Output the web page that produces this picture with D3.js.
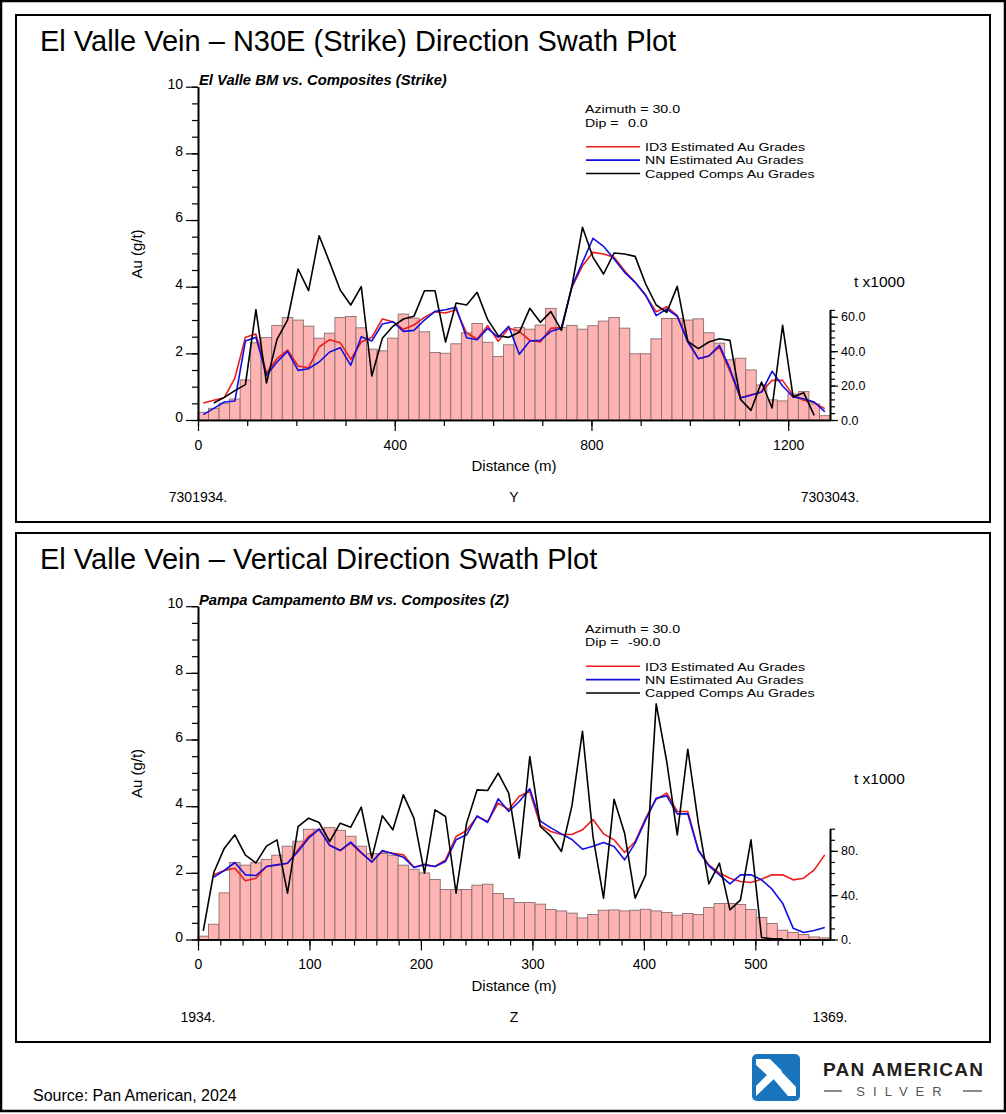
<!DOCTYPE html>
<html><head><meta charset="utf-8">
<script src="https://cdn.jsdelivr.net/npm/d3@7"></script>
<style>body{margin:0;background:#fff} svg text{font-family:"Liberation Sans",Arial,Helvetica,sans-serif}</style>
</head><body><svg id="c" width="1006" height="1114"></svg>
<script>
// ---------- DATA: Strike (N30E) swath ----------
const strikeTonnes = [4.5,6.8,9.7,12.2,23.3,44.9,48.0,55.0,59.6,58.1,54.6,47.6,50.5,59.6,60.2,53.6,41.2,40.2,47.6,61.6,
  59.2,51.3,39.2,38.8,44.3,50.7,56.1,45.2,36.9,43.7,53.8,52.8,55.2,64.9,53.8,55.0,52.8,54.8,57.5,59.6,
  53.4,38.5,38.5,47.2,59.0,59.0,58.1,58.8,50.7,44.7,35.0,35.9,29.1,20.4,11.7,11.1,15.1,16.5,9.3,2.5];
const strikeID3 = [0.51,0.59,0.67,1.26,2.48,2.58,1.41,1.84,2.10,1.62,1.57,2.19,2.41,2.32,1.82,2.34,2.48,3.03,2.95,2.72,
  2.85,3.08,3.25,3.21,3.31,2.61,2.43,2.83,2.36,2.75,2.66,2.39,2.34,2.75,2.78,3.98,4.63,5.03,4.98,4.88,
  4.48,4.13,3.73,3.25,3.40,3.13,2.39,1.84,1.92,2.19,1.46,0.67,0.76,0.84,1.19,1.19,0.74,0.59,0.52,0.34];
const strikeNN = [0.16,0.35,0.54,0.57,2.37,2.48,1.34,1.74,2.06,1.49,1.54,1.74,2.04,2.17,1.64,2.50,2.37,2.88,2.95,2.66,
  2.69,3.00,3.26,3.31,3.38,2.47,2.41,2.75,2.48,2.81,1.97,2.37,2.39,2.66,2.75,4.01,4.73,5.45,5.21,4.83,
  4.43,4.13,3.75,3.13,3.33,3.11,2.34,1.84,1.92,2.24,1.54,0.66,0.74,0.84,1.46,1.02,0.69,0.64,0.54,0.25];
const strikeComps = [null,0.51,0.68,0.88,1.06,3.31,1.11,2.42,3.00,4.53,3.88,5.53,4.73,3.90,3.45,4.00,1.32,2.45,2.81,3.03,
  3.11,3.88,3.88,2.34,3.51,3.45,3.83,3.01,2.53,2.48,2.63,3.35,2.93,3.25,2.69,4.02,5.78,4.88,4.38,5.01,
  4.98,4.91,4.08,3.45,3.23,4.01,2.36,2.14,2.34,2.44,2.39,0.62,0.29,1.14,0.36,2.84,0.69,0.82,0.14,null];
const strikeXTicks = [0,400,800,1200];
const strikeTTicks = ["0.0","20.0","40.0","60.0"];

// ---------- DATA: Vertical (Z) swath ----------
const vertTonnes = [3.0,13.8,42.1,69.5,67.1,69.2,72.2,76.1,84.2,88.7,99.5,99.5,101.0,98.6,93.2,84.2,77.6,77.6,76.1,67.1,
  63.4,60.1,54.2,45.1,45.1,45.1,49.0,49.9,41.5,37.0,33.4,33.4,31.9,27.1,25.8,23.8,19.5,22.6,26.4,26.7,
  25.8,26.4,27.3,25.8,24.4,21.9,23.5,22.6,28.9,32.5,32.5,31.6,27.1,19.9,14.4,8.4,6.3,4.5,2.3,1.5];
const vertID3 = [null,1.94,2.07,2.14,1.76,1.84,2.19,2.24,2.29,2.69,3.09,3.31,2.84,2.67,2.89,2.59,2.34,2.64,2.59,2.54,
  2.17,2.26,2.19,2.39,3.09,3.27,3.69,3.54,4.09,3.90,4.30,4.44,3.43,3.24,3.15,3.15,3.29,3.60,3.17,2.99,
  2.61,2.94,3.64,4.21,4.39,3.84,3.84,2.69,2.24,1.99,1.84,1.74,1.71,1.81,1.94,1.94,1.79,1.84,2.09,2.54];
const vertNN = [null,1.87,2.07,2.31,1.94,1.92,2.19,2.24,2.29,2.64,3.04,3.31,2.82,2.67,2.92,2.61,2.32,2.67,2.57,2.47,
  2.16,2.24,2.19,2.34,2.99,3.14,3.71,3.51,4.22,3.84,4.14,4.52,3.55,3.35,3.17,3.00,2.71,2.80,2.91,2.79,
  2.39,2.89,3.59,4.24,4.31,3.77,3.77,2.67,2.21,1.94,1.67,1.94,1.94,1.79,1.51,1.09,0.34,0.21,0.27,0.36];
const vertComps = [0.26,2.01,2.74,3.14,2.53,2.30,2.80,2.99,1.39,3.39,3.64,3.51,2.94,3.49,3.37,3.97,2.44,3.71,3.29,4.34,
  3.64,1.99,3.89,3.69,1.39,3.49,4.49,4.47,4.99,4.39,2.44,5.49,3.39,3.10,2.64,4.01,6.25,3.09,1.24,4.21,
  3.19,1.24,1.94,7.07,5.34,3.14,5.71,3.49,1.67,2.29,0.89,1.19,2.99,0.06,0.02,0.02,null,null,null,null];
const vertXTicks = [0,100,200,300,400,500];
const vertTTicks = ["0.","40.","80."];

const gradeTicks = [0,2,4,6,8,10];
const legendLabels = ["ID3 Estimated Au Grades","NN Estimated Au Grades","Capped Comps Au Grades"];
const legendColors = ["#ee1c1c","#1010e0","#000000"];

// ---------- DRAW ----------
const svg = d3.select('#c');
svg.append('rect').attr('x',1).attr('y',1).attr('width',1004).attr('height',1110)
  .attr('fill','#fff').attr('stroke','#000').attr('stroke-width',2.5);

// small text that keeps the width of a 14px label but a compact height
function compactText(g, x, y, str){
  const t = g.append('text').attr('x',x).attr('y',y).attr('font-size',14.2).text(str);
  const len = t.node().getComputedTextLength();
  t.attr('font-size',11.8).attr('textLength',len).attr('lengthAdjust','spacingAndGlyphs');
  return t;
}

function drawChart(o){
  const g = svg.append('g');
  g.append('rect').attr('x',16).attr('y',o.panelY).attr('width',974).attr('height',o.panelH)
    .attr('fill','none').attr('stroke','#000').attr('stroke-width',2);
  g.append('text').attr('x',40).attr('y',o.panelY+36).attr('font-size',29).text(o.title);

  const x = d3.scaleLinear().domain([0,o.xMax]).range([198,830]);
  const y = d3.scaleLinear().domain([0,10]).range([o.y0, o.y0-333.3]);
  const yt = d3.scaleLinear().domain([0,o.tMax]).range([o.y0, o.y0-o.tMax*o.tPx]);
  const n = o.tonnes.length, bw = o.xMax/n;

  // bars
  g.append('g').selectAll('rect').data(o.tonnes).join('rect')
    .attr('x',(d,i)=>x(i*bw)).attr('width',(d,i)=>x((i+1)*bw)-x(i*bw))
    .attr('y',d=>yt(d)).attr('height',d=>o.y0-yt(d))
    .attr('fill','#ffb4b4').attr('stroke','#8a6e6e').attr('stroke-width',0.9);

  // lines
  const line = d3.line().defined(d=>d!=null).x((d,i)=>x((i+0.5)*bw)).y(d=>y(d));
  [[o.id3,legendColors[0]],[o.nn,legendColors[1]],[o.comps,legendColors[2]]].forEach(([s,c])=>{
    g.append('path').datum(s).attr('d',line).attr('fill','none').attr('stroke',c)
      .attr('stroke-width',1.6).attr('stroke-linejoin','round');
  });

  // left axis
  const minorY = d3.range(0,10.01,0.5);
  const la = g.append('g').attr('transform','translate(198,0)');
  la.call(d3.axisLeft(y).tickValues(minorY).tickSize(6).tickFormat('').tickSizeOuter(0));
  la.append('g').call(d3.axisLeft(y).tickValues(gradeTicks).tickSize(12).tickPadding(3).tickFormat(d=>d).tickSizeOuter(0))
    .call(a=>a.selectAll('text').attr('font-size',14).attr('dy','0.12em').attr('fill','#000'));
  // bottom axis
  const ba = g.append('g').attr('transform',`translate(0,${o.y0})`);
  ba.call(d3.axisBottom(x).tickValues(d3.range(0,o.xMax,o.xMinor)).tickSize(6).tickFormat('').tickSizeOuter(0));
  ba.append('g').call(d3.axisBottom(x).tickValues(o.xTicks).tickSize(11).tickPadding(9).tickFormat(d3.format('d')).tickSizeOuter(0))
    .call(a=>a.selectAll('text').attr('font-size',14).attr('fill','#000'));
  // right axis
  const ra = g.append('g').attr('transform','translate(830,0)');
  ra.call(d3.axisRight(yt).tickValues(d3.range(0,o.tMax+0.01,o.tMinor)).tickSize(5).tickFormat('').tickSizeOuter(0));
  ra.append('g').call(d3.axisRight(yt).tickValues(o.tTicks.map(Number)).tickSize(8).tickPadding(3)
      .tickFormat((d,i)=>o.tTicks[i]).tickSizeOuter(0))
    .call(a=>a.selectAll('text').attr('font-size',12.5).attr('fill','#000'));
  g.selectAll('.domain').attr('stroke','#000').attr('stroke-width',1.6);
  g.selectAll('.tick line').attr('stroke','#000').attr('stroke-width',1.2);

  // labels
  g.append('text').attr('x',199).attr('y',o.y0-335).attr('font-size',14.8)
    .attr('font-weight','bold').attr('font-style','italic').text(o.subtitle);
  g.append('text').attr('transform',`translate(142,${o.y0-166}) rotate(-90)`).attr('text-anchor','middle')
    .attr('font-size',15).text('Au (g/t)');
  g.append('text').attr('x',514).attr('y',o.y0+51).attr('text-anchor','middle').attr('font-size',15).text('Distance (m)');
  g.append('text').attr('x',198).attr('y',o.y0+82).attr('text-anchor','middle').attr('font-size',14).text(o.coordStart);
  g.append('text').attr('x',514).attr('y',o.y0+82).attr('text-anchor','middle').attr('font-size',14).text(o.coordName);
  g.append('text').attr('x',830).attr('y',o.y0+82).attr('text-anchor','middle').attr('font-size',14).text(o.coordEnd);
  g.append('text').attr('x',854).attr('y',o.tLabelY).attr('font-size',15.5).text('t x1000');

  // legend
  const top10 = o.y0-333.3;
  compactText(g, 585, top10+26.5, 'Azimuth = 30.0');
  compactText(g, 585, top10+40, 'Dip =');
  compactText(g, o.dipX, top10+40, o.dip);
  legendLabels.forEach((t,i)=>{
    const ly = top10+60+i*13.4;
    g.append('line').attr('x1',586).attr('x2',640).attr('y1',ly).attr('y2',ly)
      .attr('stroke',legendColors[i]).attr('stroke-width',1.6);
    compactText(g, 645, ly+4.3, t);
  });
}

drawChart({panelY:15,panelH:507,title:'El Valle Vein \u2013 N30E (Strike) Direction Swath Plot',
  subtitle:'El Valle BM vs. Composites (Strike)', y0:420, xMax:1285, xMinor:100, xTicks:strikeXTicks,
  tMax:64, tPx:1.72, tMinor:4, tTicks:strikeTTicks, tonnes:strikeTonnes, id3:strikeID3, nn:strikeNN, comps:strikeComps,
  coordStart:'7301934.', coordName:'Y', coordEnd:'7303043.', tLabelY:287, dip:'0.0', dipX:628});

drawChart({panelY:533,panelH:509,title:'El Valle Vein \u2013 Vertical Direction Swath Plot',
  subtitle:'Pampa Campamento BM vs. Composites (Z)', y0:939.5, xMax:567, xMinor:20, xTicks:vertXTicks,
  tMax:100, tPx:1.108, tMinor:10, tTicks:vertTTicks, tonnes:vertTonnes, id3:vertID3, nn:vertNN, comps:vertComps,
  coordStart:'1934.', coordName:'Z', coordEnd:'1369.', tLabelY:784, dip:'-90.0', dipX:628});

// footer
svg.append('text').attr('x',33).attr('y',1101).attr('font-size',16).text('Source: Pan American, 2024');
const logo = svg.append('g').attr('transform','translate(752,1054)');
logo.append('rect').attr('width',48).attr('height',47).attr('rx',5).attr('fill','#1b75bc');
logo.append('path').attr('d','M4,5 L18,5 L30,17 L23,24 L4,42 L4,32 L15,21 L4,11 Z').attr('fill','#fff');
logo.append('path').attr('d','M25,13 L44,33 L44,42 L36,42 L19,22 Z').attr('fill','#fff');
svg.append('text').attr('x',823).attr('y',1076).attr('font-size',19).attr('font-weight','600')
  .attr('fill','#231f20').attr('textLength',160).text('PAN AMERICAN');
svg.append('text').attr('x',903).attr('y',1096).attr('text-anchor','middle').attr('font-size',13)
  .attr('letter-spacing',8).attr('fill','#555').text('SILVER');
svg.append('line').attr('x1',824).attr('x2',842).attr('y1',1091).attr('y2',1091).attr('stroke','#666').attr('stroke-width',1.5);
svg.append('line').attr('x1',963).attr('x2',982).attr('y1',1091).attr('y2',1091).attr('stroke','#666').attr('stroke-width',1.5);
</script></body></html>
